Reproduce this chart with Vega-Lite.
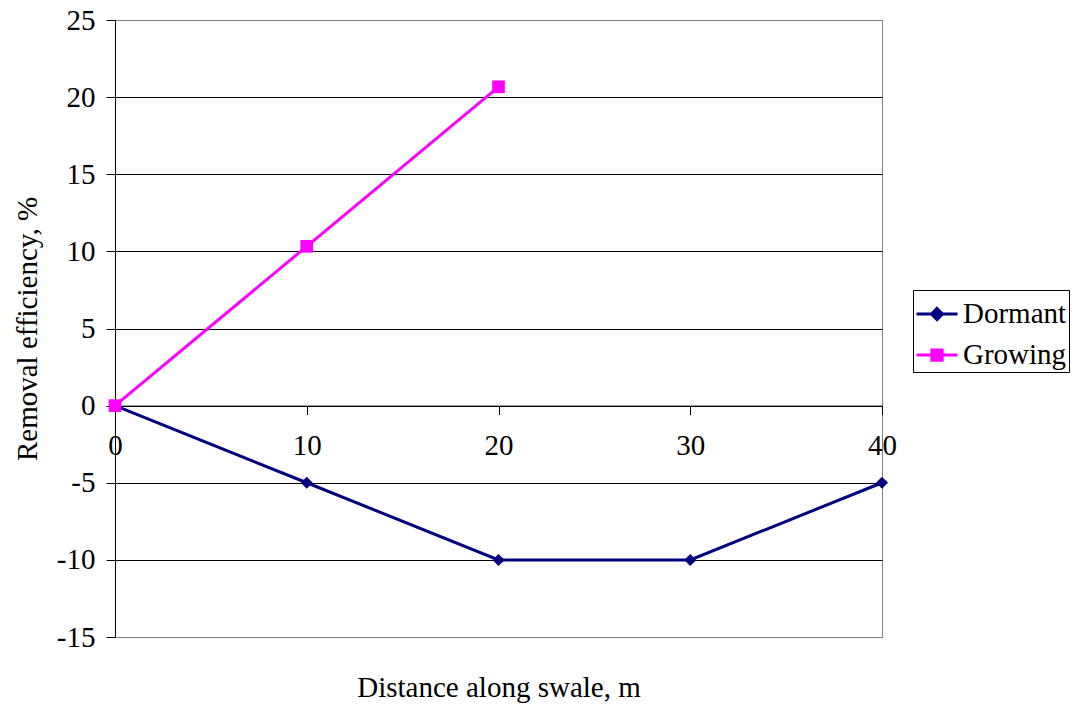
{
  "$schema": "https://vega.github.io/schema/vega-lite/v6.json",
  "width": 767,
  "height": 617,
  "autosize": {"type": "none"},
  "padding": {"left": 115, "top": 20, "right": 196, "bottom": 69},
  "background": "white",
  "config": {
    "font": "Liberation Serif",
    "view": {"stroke": "#808080", "strokeWidth": 1},
    "axis": {"labelFont": "Liberation Serif", "titleFont": "Liberation Serif", "labelColor": "#000", "titleColor": "#000", "titleFontWeight": "normal", "domainColor": "#000", "tickColor": "#000"}
  },
  "data": {
    "values": [
      {"series": "Dormant", "distance": 0, "efficiency": 0},
      {"series": "Dormant", "distance": 10, "efficiency": -5},
      {"series": "Dormant", "distance": 20, "efficiency": -10},
      {"series": "Dormant", "distance": 30, "efficiency": -10},
      {"series": "Dormant", "distance": 40, "efficiency": -5},
      {"series": "Growing", "distance": 0, "efficiency": 0},
      {"series": "Growing", "distance": 10, "efficiency": 10.33},
      {"series": "Growing", "distance": 20, "efficiency": 20.67}
    ]
  },
  "encoding": {
    "x": {
      "field": "distance", "type": "quantitative",
      "scale": {"domain": [0, 40], "nice": false, "zero": false},
      "axis": {
        "title": "Distance along swale, m",
        "values": [0, 10, 20, 30, 40],
        "labelExpr": "'' + datum.value",
        "grid": false,
        "offset": -231.375,
        "tickSize": 9,
        "labelFont": "Liberation Serif",
        "labelFontSize": 29,
        "labelPadding": 17,
        "labelFlush": false,
        "labelOverlap": false,
        "titleFont": "Liberation Serif",
        "titleFontSize": 29,
        "titleY": 291,
        "titleBaseline": "alphabetic",
        "domainWidth": 1
      }
    },
    "y": {
      "field": "efficiency", "type": "quantitative",
      "scale": {"domain": [-15, 25], "nice": false, "zero": false},
      "axis": {
        "title": "Removal efficiency, %",
        "values": [-15, -10, -5, 0, 5, 10, 15, 20, 25],
        "labelExpr": "'' + datum.value",
        "grid": true,
        "gridColor": {"condition": {"test": "datum.value === 25 || datum.value === -15", "value": "#808080"}, "value": "#000000"},
        "gridOpacity": 1,
        "tickSize": 9,
        "labelFont": "Liberation Serif",
        "labelFontSize": 29,
        "labelPadding": 11,
        "labelFlush": false,
        "labelOverlap": false,
        "titleFont": "Liberation Serif",
        "titleFontSize": 29,
        "titleX": -88,
        "titleY": 308.5,
        "titleAngle": -90,
        "titleBaseline": "middle",
        "titleAlign": "center"
      }
    },
    "color": {
      "field": "series", "type": "nominal",
      "scale": {"domain": ["Dormant", "Growing"], "range": ["#000080", "#FF00FF"]},
      "legend": {
        "title": null,
        "orient": "none",
        "legendX": 798,
        "legendY": 270,
        "direction": "vertical",
        "strokeColor": "#000000",
        "padding": 2,
        "rowPadding": 4,
        "labelFont": "Liberation Serif",
        "labelFontSize": 29,
        "labelColor": "#000",
        "labelOffset": 4,
        "symbolSize": 1681,
        "symbolStrokeWidth": 3,
        "encode": {
          "symbols": {
            "update": {
              "shape": {"signal": "datum.value === 'Dormant' ? 'M-1,0L1,0M0,-0.27L0.27,0L0,0.27L-0.27,0Z' : 'M-1,0L1,0M-0.25,-0.25L0.25,-0.25L0.25,0.25L-0.25,0.25Z'"},
              "fill": {"signal": "datum.value === 'Dormant' ? '#000080' : '#FF00FF'"},
              "stroke": {"signal": "datum.value === 'Dormant' ? '#000080' : '#FF00FF'"},
              "strokeWidth": {"value": 3},
              "size": {"value": 1681},
              "opacity": {"value": 1},
              "fillOpacity": {"value": 1}
            }
          }
        }
      }
    }
  },
  "layer": [
    {"mark": {"type": "line", "strokeWidth": 3}},
    {
      "transform": [{"filter": "datum.series === 'Dormant'"}],
      "mark": {"type": "point", "filled": true, "opacity": 1, "shape": "diamond", "size": 144}
    },
    {
      "transform": [{"filter": "datum.series === 'Growing'"}],
      "mark": {"type": "point", "filled": true, "opacity": 1, "shape": "square", "size": 160}
    }
  ]
}
